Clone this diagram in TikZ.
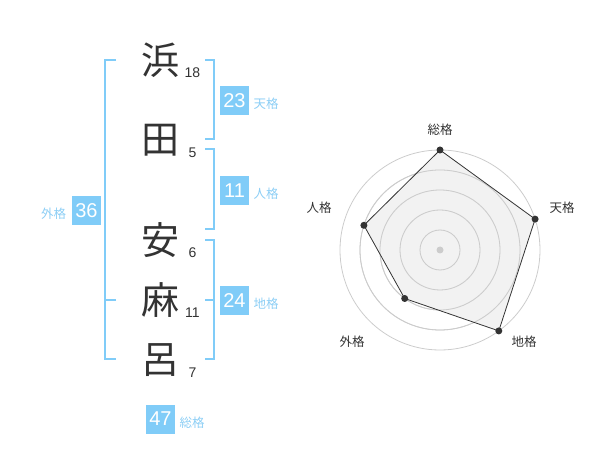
\documentclass[tikz,border=0pt]{standalone}
\usepackage{fontspec}
\setmainfont{Liberation Sans}
\newfontfamily\jp{Noto Sans CJK JP}
\definecolor{skyb}{RGB}{128,204,248}
\definecolor{skyt}{RGB}{140,206,245}
\definecolor{ink}{RGB}{51,51,51}
\definecolor{ring}{RGB}{204,204,204}
\definecolor{polyfill}{RGB}{240,240,240}
\begin{document}
\begin{tikzpicture}[x=1pt,y=-1pt,
  kanji/.style={inner sep=0pt,text=ink,font=\jp\fontsize{38}{38}\selectfont},
  strokes/.style={inner sep=0pt,text=ink,font=\fontsize{14}{14}\selectfont},
  scorebox/.style={fill=skyb,text=white,minimum width=29pt,minimum height=29pt,inner sep=0pt,font=\fontsize{20}{20}\selectfont},
  tag/.style={inner sep=0pt,text=skyt,font=\jp\fontsize{12.5}{12.5}\selectfont},
  brack/.style={draw=skyb,line width=2pt},
  axislabel/.style={inner sep=0pt,text=ink,font=\jp\fontsize{12.5}{12.5}\selectfont},
  ringline/.style={draw=ring,line width=0.8pt},
  dot/.style={circle,fill=ink,inner sep=0pt,minimum size=7pt}]
\useasboundingbox (0,0) rectangle (600,470);
% characters
\node[kanji] (k1) at (160,60) {浜};
\node[kanji] (k2) at (160,140) {田};
\node[kanji] (k3) at (160,240) {安};
\node[kanji] (k4) at (160,300) {麻};
\node[kanji] (k5) at (160,360) {呂};
\node[strokes] (s1) at (192.5,72.5) {18};
\node[strokes] (s2) at (192.5,152.5) {5};
\node[strokes] (s3) at (192.5,252.5) {6};
\node[strokes] (s4) at (192.5,312.5) {11};
\node[strokes] (s5) at (192.5,372.5) {7};
% brackets
\coordinate (t1) at (205,60); \coordinate (t2) at (205,139);
\draw[brack] (t1) -- ++(9,0) |- (t2);
\coordinate (j1) at (205,149); \coordinate (j2) at (205,229);
\draw[brack] (j1) -- ++(9,0) |- (j2);
\coordinate (c1) at (205,240); \coordinate (c2) at (205,359); \coordinate (c3) at (205,300);
\draw[brack] (c1) -- ++(9,0) |- (c2);
\draw[brack] (c3) -- ++(9,0);
\coordinate (g1) at (116,60); \coordinate (g2) at (116,359); \coordinate (g3) at (116,300);
\draw[brack] (g1) -- ++(-11,0) |- (g2);
\draw[brack] (g3) -- ++(-11,0);
% score boxes
\node[scorebox] (b1) at (234.5,100.5) {23};
\node[tag] (l1) at (266,104) {天格};
\node[scorebox] (b2) at (234.5,190.5) {11};
\node[tag] (l2) at (266,194) {人格};
\node[scorebox] (b3) at (234.5,300.5) {24};
\node[tag] (l3) at (266,304) {地格};
\node[scorebox] (b4) at (86.5,210.5) {36};
\node[tag] (l4) at (53.5,214) {外格};
\node[scorebox] (b5) at (160.5,419) {47};
\node[tag] (l5) at (192,423) {総格};
% radar chart
\coordinate (ctr) at (440,250);
\foreach \r in {20,40,60,80,100} \draw[ringline] (ctr) circle[radius=\r];
\coordinate (p1) at (440,150);
\coordinate (p2) at (535.1,219.1);
\coordinate (p3) at (498.8,330.9);
\coordinate (p4) at (404.7,298.5);
\coordinate (p5) at (363.9,225.3);
\fill[polyfill,fill opacity=0.85] (p1) -- (p2) -- (p3) -- (p4) -- (p5) -- cycle;
\foreach \r in {20,40,60,80} \draw[ringline] (ctr) circle[radius=\r];
\draw[ink,line width=0.8pt] (p1) -- (p2) -- (p3) -- (p4) -- (p5) -- cycle;
\node[circle,fill=ring,inner sep=0pt,minimum size=7pt] (cdot) at (ctr) {};
\foreach \p in {p1,p2,p3,p4,p5} \node[dot] at (\p) {};
\node[axislabel] (a1) at (440,130) {総格};
\node[axislabel] (a2) at (562,208) {天格};
\node[axislabel] (a3) at (524,342) {地格};
\node[axislabel] (a4) at (352,342) {外格};
\node[axislabel] (a5) at (319,208) {人格};
\end{tikzpicture}
\end{document}
